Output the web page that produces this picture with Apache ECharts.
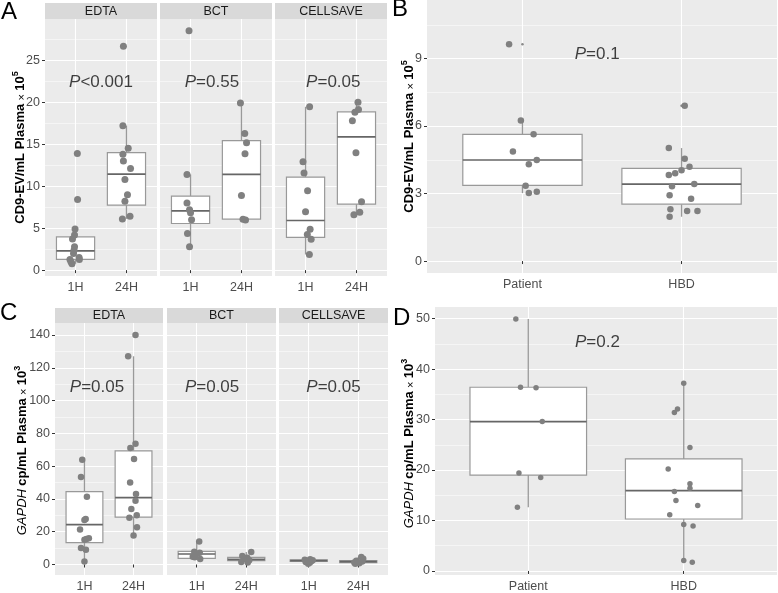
<!DOCTYPE html>
<html><head><meta charset="utf-8">
<script src="https://cdn.jsdelivr.net/npm/echarts@6/dist/echarts.min.js"></script>
<style>html,body{margin:0;padding:0;background:#fff}#c{width:778px;height:593px}</style>
</head><body><div id="c"></div><script>
// ---------------- DATA ----------------
const timeCats = ['1H', '24H'];
const groupCats = ['Patient', 'HBD'];
const tubeFacets = ['EDTA', 'BCT', 'CELLSAVE'];
const pValuesA = ['<0.001', '=0.55', '=0.05'];
const pValuesC = ['=0.05', '=0.05', '=0.05'];
const pValueB = '=0.1';
const pValueD = '=0.2';

const ticksA = [0, 5, 10, 15, 20, 25];
const minorA = [2.5, 7.5, 12.5, 17.5, 22.5, 27.5];
const ticksB = [0, 3, 6, 9];
const minorB = [1.5, 4.5, 7.5, 10.5];
const ticksC = [0, 20, 40, 60, 80, 100, 120, 140];
const minorC = [10, 30, 50, 70, 90, 110, 130];
const ticksD = [0, 10, 20, 30, 40, 50];
const minorD = [5, 15, 25, 35, 45];

// box stats: [lower whisker, Q1, median, Q3, upper whisker]
const boxA_EDTA_1H = [0.75, 1.27, 2.3, 3.96, 4.9];
const boxA_EDTA_24H = [6.1, 7.74, 11.43, 14.0, 17.2];
const boxA_BCT_1H = [2.78, 5.55, 7.06, 8.81, 11.39];
const boxA_BCT_24H = [5.95, 6.07, 11.39, 15.43, 19.9];
const boxA_CELL_1H = [1.87, 3.89, 5.91, 11.07, 19.45];
const boxA_CELL_24H = [6.59, 7.86, 15.87, 18.85, 20.0];
const boxB_Patient = [3.02, 3.36, 4.49, 5.63, 6.25];
const boxB_HBD = [1.97, 2.53, 3.42, 4.12, 5.02];
const boxC_EDTA_1H = [1.8, 13.4, 24.3, 44.4, 63.9];
const boxC_EDTA_24H = [17.7, 28.9, 40.8, 69.3, 127.0];
const boxC_BCT_1H = [3.4, 3.8, 6.4, 8.0, 14.0];
const boxC_BCT_24H = [1.3, 2.4, 3.1, 4.3, 7.7];
const boxC_CELL_1H = [0.4, 1.9, 2.4, 2.9, 3.2];
const boxC_CELL_24H = [0.4, 1.2, 1.8, 2.4, 4.6];
const boxD_Patient = [12.6, 19.0, 29.6, 36.4, 49.9];
const boxD_HBD = [1.75, 10.3, 15.9, 22.2, 37.2];

// outliers (drawn as small boxplot outlier dots)
const outB_Patient = [9.63];
const outB_HBD = [6.9];

// individual points and their horizontal jitter (category units)
const ptsA_EDTA_1H = [13.9, 8.4, 4.9, 4.17, 3.7, 2.78, 2.38, 1.98, 1.5, 1.27, 1.27, 0.99, 0.75];
const jitA_EDTA_1H = [0.035, 0.04, -0.01, -0.02, -0.06, -0.02, -0.03, -0.04, 0.07, -0.11, 0.075, -0.09, -0.07];
const ptsA_EDTA_24H = [26.67, 17.2, 14.5, 13.8, 13.0, 12.1, 10.8, 8.97, 8.2, 6.1, 6.4];
const jitA_EDTA_24H = [-0.06, -0.07, 0.035, -0.07, -0.06, 0.08, -0.03, 0.02, -0.03, -0.08, 0.07];
const ptsA_BCT_1H = [28.5, 11.39, 7.98, 7.2, 6.83, 6.0, 4.37, 2.78];
const jitA_BCT_1H = [-0.03, -0.07, -0.07, -0.02, 0.0, 0.02, -0.06, -0.02];
const ptsA_BCT_24H = [19.9, 16.27, 15.16, 13.85, 8.89, 6.05, 5.97];
const jitA_BCT_24H = [-0.02, 0.065, 0.1, 0.07, 0.0, 0.03, 0.08];
const ptsA_CELL_1H = [19.45, 12.9, 11.55, 9.44, 6.94, 4.88, 4.25, 3.69, 1.87];
const jitA_CELL_1H = [0.08, -0.05, -0.03, 0.04, 0.0, 0.09, 0.035, 0.11, 0.075];
const ptsA_CELL_24H = [20.0, 19.13, 18.8, 17.78, 13.97, 8.13, 6.9, 6.59];
const jitA_CELL_24H = [0.03, 0.04, -0.03, -0.08, -0.01, 0.1, 0.065, -0.05];

const ptsB_Patient = [9.63, 6.25, 5.64, 4.87, 4.49, 4.3, 3.35, 3.02, 3.08];
const jitB_Patient = [-0.084, -0.01, 0.07, -0.06, 0.09, 0.04, 0.02, 0.04, 0.09];
const ptsB_HBD = [6.9, 5.02, 4.55, 4.19, 4.04, 3.9, 3.82, 3.33, 3.42, 2.93, 2.77, 2.3, 2.22, 2.22, 1.97];
const jitB_HBD = [0.02, -0.08, 0.02, 0.05, 0.0, -0.04, -0.08, -0.06, 0.08, -0.075, 0.06, -0.07, 0.035, 0.1, -0.075];

const ptsC_EDTA_1H = [63.9, 53.4, 41.3, 27.7, 27.1, 21.3, 16.0, 15.1, 15.6, 10.0, 9.0, 1.8];
const jitC_EDTA_1H = [-0.045, -0.07, 0.05, 0.025, 0.0, -0.09, 0.09, 0.0, 0.04, -0.07, 0.03, 0.0];
const ptsC_EDTA_24H = [140, 127, 73.7, 71.1, 64.3, 50.0, 43.0, 38.9, 33.9, 30.1, 28.5, 22.7, 17.7];
const jitC_EDTA_24H = [0.04, -0.11, 0.04, -0.065, 0.01, -0.07, 0.05, 0.04, -0.045, 0.065, -0.085, 0.07, 0.0];
const ptsC_BCT_1H = [14.0, 7.8, 7.2, 6.4, 4.8, 4.4, 3.4];
const jitC_BCT_1H = [0.05, -0.05, 0.06, 0.0, -0.08, -0.04, 0.07];
const ptsC_BCT_24H = [7.7, 5.2, 4.1, 3.3, 2.6, 1.6, 1.3];
const jitC_BCT_24H = [0.1, -0.08, 0.02, -0.03, 0.06, -0.1, 0.03];
const ptsC_CELL_1H = [3.2, 2.9, 2.6, 2.3, 2.0, 1.6, 1.0, 0.4];
const jitC_CELL_1H = [0.03, -0.08, 0.08, -0.02, 0.05, -0.06, 0.02, -0.01];
const ptsC_CELL_24H = [4.6, 3.5, 2.3, 1.8, 1.2, 0.8, 0.4];
const jitC_CELL_24H = [0.06, 0.1, -0.04, 0.08, -0.08, 0.02, -0.06];

const ptsD_Patient = [49.9, 36.4, 36.3, 29.6, 19.4, 18.5, 12.6];
const jitD_Patient = [-0.08, -0.05, 0.05, 0.09, -0.06, 0.08, -0.07];
const ptsD_HBD = [37.2, 32.1, 31.4, 24.45, 20.2, 17.3, 16.4, 15.76, 13.95, 12.97, 11.15, 9.2, 8.9, 2.08, 1.75];
const jitD_HBD = [0, -0.04, -0.06, 0.04, -0.1, 0.04, 0.04, -0.06, -0.05, 0.09, -0.09, 0, 0.06, 0, 0.055];

// ---------------- RENDER ----------------
const FONT = '"Liberation Sans", Arial, Helvetica, sans-serif';
const BOX_W = 0.75;
const option = {animation: false, backgroundColor: '#fff', grid: [], xAxis: [], yAxis: [], series: [], graphic: []};

function renderBox(params, api) {
  const x = api.value(0), lo = api.value(1), q1 = api.value(2), md = api.value(3), q3 = api.value(4), hi = api.value(5);
  const hw = BOX_W / 2;
  const a = api.coord([x - hw, q3]), b = api.coord([x + hw, q1]);
  const ml = api.coord([x - hw, md]), mr = api.coord([x + hw, md]);
  const pLo = api.coord([x, lo]), pQ1 = api.coord([x, q1]), pQ3 = api.coord([x, q3]), pHi = api.coord([x, hi]);
  const wl = {stroke: '#999999', lineWidth: 1.3};
  return {type: 'group', children: [
    {type: 'line', shape: {x1: pQ3[0], y1: pQ3[1], x2: pHi[0], y2: pHi[1]}, style: wl},
    {type: 'line', shape: {x1: pQ1[0], y1: pQ1[1], x2: pLo[0], y2: pLo[1]}, style: wl},
    {type: 'rect', shape: {x: a[0], y: a[1], width: b[0] - a[0], height: b[1] - a[1]}, style: {fill: '#ffffff', stroke: '#999999', lineWidth: 1.2}},
    {type: 'line', shape: {x1: ml[0], y1: ml[1], x2: mr[0], y2: mr[1]}, style: {stroke: '#666666', lineWidth: 1.7}}
  ]};
}

function addPanel(p) {
  const gi = option.grid.length;
  option.grid.push({left: p.left, top: p.top, width: p.width, height: p.height, show: true,
    backgroundColor: '#EBEBEB', borderWidth: 0});
  option.xAxis.push({type: 'value', gridIndex: gi, min: 0.4, max: 2.6,
    axisLine: {show: false},
    axisTick: {show: true, customValues: [1, 2], length: 3, lineStyle: {color: '#333333', width: 1}},
    axisLabel: {customValues: [1, 2], formatter: v => p.cats[Math.round(v) - 1], color: '#4D4D4D',
      fontSize: 12.5, fontFamily: FONT, margin: 5},
    splitLine: {show: true, lineStyle: {color: '#ffffff', width: 1.1}}});
  const yi = option.yAxis.length;
  option.yAxis.push({type: 'value', gridIndex: gi, min: p.yMin, max: p.yMax,
    axisLine: {show: false},
    axisTick: {show: p.showY, customValues: p.yTicks, length: 3, lineStyle: {color: '#333333', width: 1}},
    axisLabel: {show: p.showY, customValues: p.yTicks, color: '#4D4D4D', fontSize: 12.5, fontFamily: FONT, margin: 5},
    splitLine: {show: true, lineStyle: {color: '#ffffff', width: 1.1}}});
  option.yAxis.push({type: 'value', gridIndex: gi, min: p.yMin, max: p.yMax, position: 'right',
    axisLine: {show: false}, axisTick: {show: false, customValues: p.yMinor},
    axisLabel: {show: false, customValues: p.yMinor},
    splitLine: {show: true, lineStyle: {color: '#ffffff', width: 0.5}}});
  option.series.push({type: 'custom', xAxisIndex: gi, yAxisIndex: yi, z: 2, silent: true,
    renderItem: renderBox, encode: {x: 0, y: [1, 2, 3, 4, 5]},
    data: p.boxes.map((s, i) => [i + 1].concat(s))});
  if (p.outliers) {
    const od = [];
    p.outliers.forEach((arr, i) => arr.forEach(v => od.push([i + 1, v])));
    option.series.push({type: 'scatter', xAxisIndex: gi, yAxisIndex: yi, z: 3, silent: true,
      symbolSize: 2.5, itemStyle: {color: '#6e6e6e'}, data: od});
  }
  const pd = [];
  p.points.forEach((arr, i) => arr.forEach((v, k) => pd.push([i + 1 + p.jitters[i][k], v])));
  option.series.push({type: 'scatter', xAxisIndex: gi, yAxisIndex: yi, z: 4, silent: true,
    symbolSize: p.ptSize, itemStyle: {color: '#808080', opacity: 1}, data: pd});
  option.series.push({type: 'scatter', xAxisIndex: gi, yAxisIndex: yi, z: 5, silent: true,
    symbolSize: 0, data: [p.pPos],
    label: {show: true, position: 'inside', formatter: '{i|P}{n|' + p.pText + '}',
      rich: {i: {fontStyle: 'italic', fontSize: 17, fontFamily: FONT, color: '#111'},
             n: {fontSize: 17, fontFamily: FONT, color: '#111'}}}});
  if (p.strip) {
    option.graphic.push({type: 'rect', shape: {x: p.left, y: p.top - p.stripH, width: p.width, height: p.stripH},
      style: {fill: '#D9D9D9'}, silent: true});
    option.graphic.push({type: 'text', x: p.left + p.width / 2, y: p.top - p.stripH / 2 + 0.5,
      style: {text: p.strip, fontSize: 12.5, fontFamily: FONT, fill: '#1A1A1A', align: 'center', verticalAlign: 'middle'}, silent: true});
  }
}

function panelLetter(t, x, y) {
  option.graphic.push({type: 'text', x: x, y: y, silent: true,
    style: {text: t, fontSize: 24, fontFamily: FONT, fill: '#000', align: 'left', verticalAlign: 'top'}});
}
function yTitle(x, y, italicPart, boldPart, exp) {
  const txt = (italicPart ? '{i|' + italicPart + '} ' : '') + '{b|' + boldPart + '} {r|\u00d7} {b|10}{s|' + exp + '}';
  option.graphic.push({type: 'text', x: x, y: y, rotation: Math.PI / 2, silent: true,
    style: {text: txt, align: 'center', verticalAlign: 'middle', fill: '#000',
      rich: {
        i: {fontStyle: 'italic', fontSize: 13, fontFamily: FONT, fill: '#000', lineHeight: 16, verticalAlign: 'bottom'},
        b: {fontWeight: 'bold', fontSize: 13, fontFamily: FONT, fill: '#000', lineHeight: 16, verticalAlign: 'bottom'},
        r: {fontSize: 11, fontFamily: FONT, fill: '#000', lineHeight: 16, verticalAlign: 'bottom'},
        s: {fontWeight: 'bold', fontSize: 9, fontFamily: FONT, fill: '#000', lineHeight: 10, verticalAlign: 'top'}
      }}});
}

// Panel A (three facets)
const aLeft = [45, 160, 275];
const aBoxes = [[boxA_EDTA_1H, boxA_EDTA_24H], [boxA_BCT_1H, boxA_BCT_24H], [boxA_CELL_1H, boxA_CELL_24H]];
const aPts = [[ptsA_EDTA_1H, ptsA_EDTA_24H], [ptsA_BCT_1H, ptsA_BCT_24H], [ptsA_CELL_1H, ptsA_CELL_24H]];
const aJit = [[jitA_EDTA_1H, jitA_EDTA_24H], [jitA_BCT_1H, jitA_BCT_24H], [jitA_CELL_1H, jitA_CELL_24H]];
const aPX = [1.5, 1.42, 1.545];
for (let f = 0; f < 3; f++) {
  addPanel({left: aLeft[f], top: 19, width: 112, height: 257, yMin: -0.7, yMax: 29.9,
    yTicks: ticksA, yMinor: minorA, showY: f === 0, cats: timeCats,
    boxes: aBoxes[f], points: aPts[f], jitters: aJit[f], ptSize: 7,
    pText: pValuesA[f], pPos: [aPX[f], 22.4], strip: tubeFacets[f], stripH: 16});
}
// Panel B
addPanel({left: 427, top: 0, width: 350, height: 273, yMin: -0.53, yMax: 11.6,
  yTicks: ticksB, yMinor: minorB, showY: true, cats: groupCats,
  boxes: [boxB_Patient, boxB_HBD], points: [ptsB_Patient, ptsB_HBD], jitters: [jitB_Patient, jitB_HBD],
  outliers: [outB_Patient, outB_HBD], ptSize: 6.5, pText: pValueB, pPos: [1.47, 9.2]});
// Panel C (three facets)
const cLeft = [55, 167, 279];
const cWidth = [108, 109, 109];
const cBoxes = [[boxC_EDTA_1H, boxC_EDTA_24H], [boxC_BCT_1H, boxC_BCT_24H], [boxC_CELL_1H, boxC_CELL_24H]];
const cPts = [[ptsC_EDTA_1H, ptsC_EDTA_24H], [ptsC_BCT_1H, ptsC_BCT_24H], [ptsC_CELL_1H, ptsC_CELL_24H]];
const cJit = [[jitC_EDTA_1H, jitC_EDTA_24H], [jitC_BCT_1H, jitC_BCT_24H], [jitC_CELL_1H, jitC_CELL_24H]];
const cPX = [1.255, 1.31, 1.5];
for (let f = 0; f < 3; f++) {
  addPanel({left: cLeft[f], top: 323, width: cWidth[f], height: 255, yMin: -6.4, yMax: 147.3,
    yTicks: ticksC, yMinor: minorC, showY: f === 0, cats: timeCats,
    boxes: cBoxes[f], points: cPts[f], jitters: cJit[f], ptSize: 6.5,
    pText: pValuesC[f], pPos: [cPX[f], 108], strip: tubeFacets[f], stripH: 15});
}
// Panel D
addPanel({left: 435, top: 307, width: 342, height: 273, yMin: -0.8, yMax: 52.3,
  yTicks: ticksD, yMinor: minorD, showY: true, cats: groupCats,
  boxes: [boxD_Patient, boxD_HBD], points: [ptsD_Patient, ptsD_HBD], jitters: [jitD_Patient, jitD_HBD],
  ptSize: 5.5, pText: pValueD, pPos: [1.445, 45.4]});

panelLetter('A', 1, 0);
panelLetter('B', 392, -3);
panelLetter('C', 0, 301);
panelLetter('D', 393, 306);
yTitle(19, 147.5, null, 'CD9-EV/mL Plasma', '5');
yTitle(408, 136.5, null, 'CD9-EV/mL Plasma', '5');
yTitle(21, 450.5, 'GAPDH', 'cp/mL Plasma', '3');
yTitle(408, 443.5, 'GAPDH', 'cp/mL Plasma', '3');

const chart = echarts.init(document.getElementById('c'), null, {renderer: 'canvas'});
chart.setOption(option);
</script></body></html>
